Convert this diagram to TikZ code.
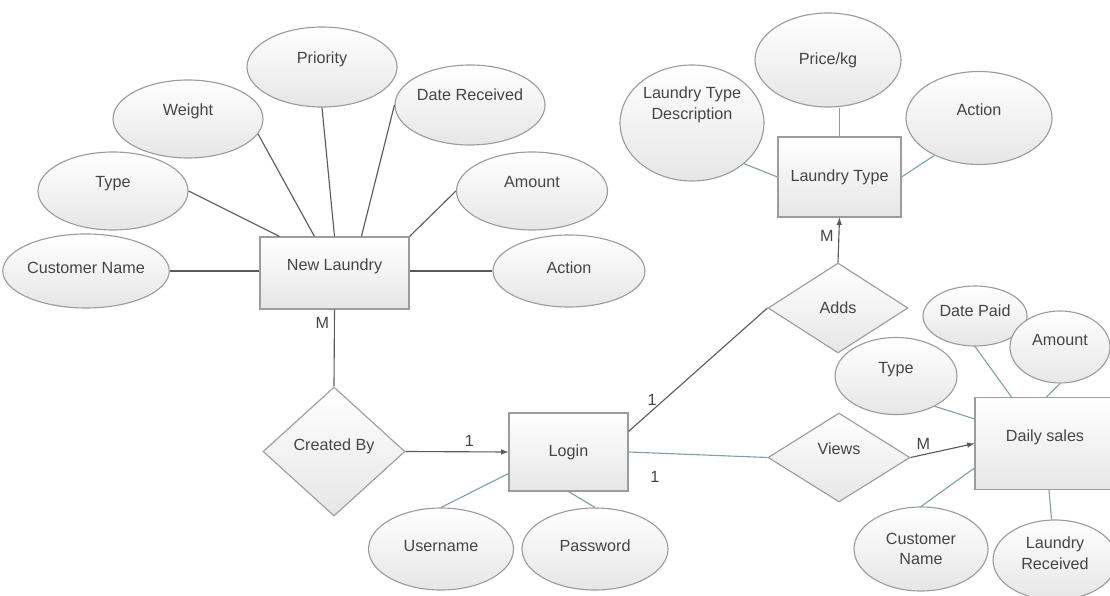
\documentclass[tikz,border=0pt]{standalone}
\usepackage{fontspec}
\setmainfont{Liberation Sans}
\usepackage{tikz}
\usetikzlibrary{arrows,shapes.geometric,calc}

\definecolor{edgec}{HTML}{9C9C9C}
\definecolor{fillc}{HTML}{E6E6E6}
\definecolor{linec}{HTML}{5A5A5A}
\definecolor{bluec}{HTML}{80A0AC}
\definecolor{textc}{HTML}{454545}

\tikzset{
  shp/.style={draw=edgec, line width=0.8pt, top color=white, bottom color=fillc,
    inner sep=0pt, text=textc, font=\fontsize{11.5}{14.5}\selectfont},
  ent/.style={shp, rectangle},
  attr/.style={shp, ellipse},
  rel/.style={shp, diamond},
  sz/.style 2 args={minimum width=#1*0.025cm, minimum height=#2*0.025cm},
  lift/.style={text depth=#1},
  conn/.style={draw=linec, line width=0.8pt},
  bconn/.style={draw=bluec, line width=0.8pt},
  card/.style={text=textc, font=\fontsize{11.5}{14}\selectfont}
}

\begin{document}
\begin{tikzpicture}[x=0.025cm, y=-0.025cm, >=latex]
\useasboundingbox (0,0) rectangle (1110,596);
\clip (0,0) rectangle (1110,596);

\node[ent, sz={149}{72}, lift=11.4pt] (nl) at (334.5,273) {New Laundry};
\node[attr, sz={152}{74}, lift=4.3pt] (cn) at (86,271) {Customer Name};
\node[attr, sz={150}{78}, lift=12.8pt] (typ) at (113,191) {Type};
\node[attr, sz={150}{78}, lift=12.8pt] (wgt) at (188,119) {Weight};
\node[attr, sz={150}{80}, lift=12.8pt] (pri) at (322,67) {Priority};
\node[attr, sz={150}{80}, lift=14.2pt] (dr) at (470,105) {Date Received};
\node[attr, sz={151}{78}, lift=12.8pt] (am) at (532,191) {Amount};
\node[attr, sz={152}{72}, lift=4.3pt] (ac) at (569,271) {Action};

\node[rel, sz={142}{129}, lift=10pt] (cb) at (334,451.5) {Created By};
\node[ent, sz={119}{78}] (lg) at (568.5,452) {Login};
\node[attr, sz={145}{82}, lift=4.3pt] (un) at (441,549) {Username};
\node[attr, sz={146}{82}, lift=4.3pt] (pw) at (595,549) {Password};

\node[rel, sz={140}{90}] (ad) at (838,308) {Adds};
\node[ent, sz={123}{80}] (lt) at (839.5,177) {Laundry Type};
\node[attr, sz={146}{94}] (pk) at (828,60) {Price/kg};
\node[attr, sz={146}{93}, lift=11.4pt] (ac2) at (979,118) {Action};
\node[attr, sz={144}{116}, lift=28.4pt, align=center] (ltd) at (692,123) {Laundry Type\\Description};

\node[rel, sz={142}{89}, lift=12.8pt] (vw) at (839,457.5) {Views};
\node[ent, sz={140}{92}, lift=11.4pt] (ds) at (1045,443.5) {Daily sales};
\node[attr, sz={104}{60}, lift=7pt] (dp) at (975,316) {Date Paid};
\node[attr, sz={100}{72}, lift=10pt] (am2) at (1060,347) {Amount};
\node[attr, sz={122}{77}, lift=11.4pt] (ty2) at (896,376) {Type};
\node[attr, sz={134}{84}, lift=0pt, align=center] (cn2) at (921,549) {Customer\\Name};
\node[attr, sz={124}{80}, lift=10pt, align=center] (lr) at (1055,560) {Laundry\\Received};

\draw[conn] (cn.east) -- (cn.east -| nl.west);
\draw[conn] (typ.east) -- ($(nl.north west)+(20,0)$);
\draw[conn] (wgt.-12) -- ($(nl.north west)+(55,0)$);
\draw[conn] (pri.south) -- (nl.north);
\draw[conn] (dr.west) -- ($(nl.north west)+(102,0)$);
\draw[conn] (am.west) -- (nl.north east);
\draw[conn] (ac.west) -- (ac.west -| nl.east);

\draw[conn] (nl.south) -- node[card, pos=0.17, left] {M} (cb.north);
\draw[conn, ->] (cb.east) -- node[card, pos=0.62, above] {1} (lg.west);
\draw[bconn] (un.north) -- ($(lg.south west)+(0,-18)$);
\draw[bconn] (pw.north) -- (lg.south);

\draw[conn] ($(lg.north east)+(0,19)$) -- node[card, pos=0.17, above] {1} (ad.west);
\draw[bconn] (lg.east) -- node[card, pos=0.19, below=9pt] {1} (vw.west);
\draw[conn, ->] (ad.north) -- node[card, pos=0.6, left] {M} (lt.south);
\draw[bconn] (lt.north) -- (lt.north |- pk.south);
\draw[bconn] (ac2.220) -- (lt.east);
\draw[bconn] (ltd.-38) -- (lt.west);

\draw[conn, ->] (vw.east) -- node[card, pos=0.2, above] {M} (ds.west);
\draw[bconn] (dp.south) -- ($(ds.north west)+(37,0)$);
\draw[bconn] (am2.south) -- ($(ds.north west)+(72,0)$);
\draw[bconn] (ty2.-38) -- ($(ds.north west)+(0,22)$);
\draw[bconn] (cn2.north) -- ($(ds.south west)+(0,-22)$);
\draw[bconn] (lr) -- (ds);
\end{tikzpicture}
\end{document}
